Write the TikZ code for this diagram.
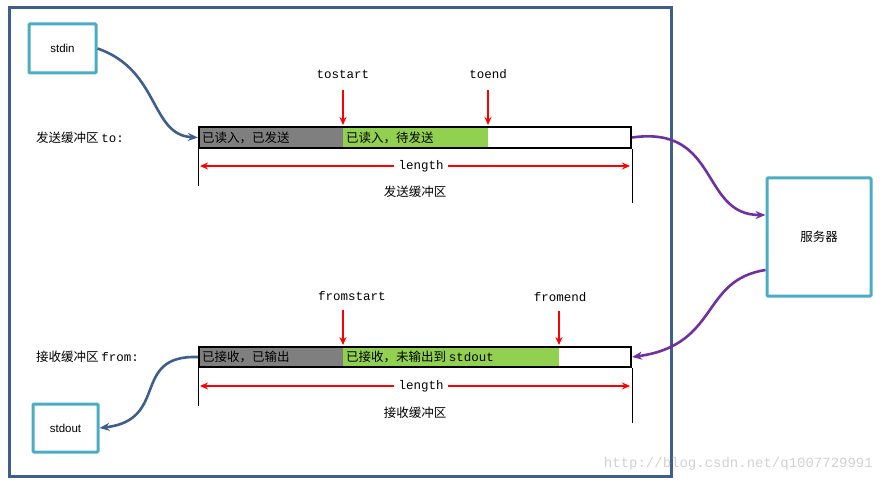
\documentclass[tikz,border=0pt]{standalone}
\usepackage{fontspec}
\setmainfont{Liberation Sans}
\setmonofont{Liberation Mono}
\newfontfamily\cjk{Noto Sans CJK SC}
\usetikzlibrary{arrows.meta}
\definecolor{frameblue}{HTML}{3E5F8A}
\definecolor{boxcyan}{HTML}{4BACC6}
\definecolor{bargray}{HTML}{7F7F7F}
\definecolor{bargreen}{HTML}{92D050}
\definecolor{flowpurple}{HTML}{7030A0}
\newcommand{\fs}{\fontsize{12.5}{14}\selectfont}
\tikzset{
  x=1pt,y=-1pt,
  ioBox/.style={draw=boxcyan,line width=3pt,rounded corners=1pt,font=\fontsize{11.5}{13}\selectfont},
  pointer/.style={draw=red,line width=1.6pt,-{Stealth[length=8pt,width=7pt]}},
  lenArrow/.style={draw=red,line width=1.6pt,-{Stealth[length=8pt,width=7pt]}},
  tick/.style={draw=black,line width=0.8pt},
  blueFlow/.style={draw=frameblue,line width=2.6pt,-{Stealth[length=10pt,width=8pt]}},
  purpleFlow/.style={draw=flowpurple,line width=2.6pt,-{Stealth[length=10pt,width=8pt]}},
  lbl/.style={font=\ttfamily\fs,inner sep=1pt},
  cn/.style={font=\cjk\fs,inner sep=1pt}
}
\begin{document}
\begin{tikzpicture}
\useasboundingbox (0,0) rectangle (884,484);
\draw[frameblue,line width=3pt] (9,8) rectangle (671,476);
% boxes
\node[ioBox,minimum width=67pt,minimum height=49pt] (stdin) at (62.5,48.5) {stdin};
\node[ioBox,minimum width=65pt,minimum height=48pt] (stdout) at (65.5,428) {stdout};
\node[ioBox,minimum width=104pt,minimum height=118pt,font=\cjk\fs] (srv) at (819,237) {服务器};
% send buffer
\fill[bargray] (199,127) rectangle (343,148);
\fill[bargreen] (343,127) rectangle (488,148);
\node[draw=black,line width=2.2pt,minimum width=432pt,minimum height=21pt,inner sep=0pt] (sbuf) at (415,137.5) {};
\node[cn,anchor=west] (s1) at (201,137.5) {已读入，已发送};
\node[cn,anchor=west] (s2) at (345,137.5) {已读入，待发送};
\node[anchor=west,inner sep=0pt] (slab) at (36,137.5) {{\cjk\fs 发送缓冲区} {\ttfamily\fs to:}};
\node[lbl] (tostart) at (343,74) {tostart};
\node[lbl] (toend) at (488,74) {toend};
\coordinate (tsA) at (343,125);
\coordinate (teA) at (488,125);
\draw[pointer] (343,90) -- (tsA);
\draw[pointer] (488,90) -- (teA);
\draw[tick] (sbuf.south west) -- ++(0,37);
\draw[tick] (sbuf.south east) -- ++(0,54);
\node[lbl,fill=white,inner sep=4pt] (slen) at (421,166) {length};
\coordinate (sl) at (200,166);
\coordinate (sr) at (630,166);
\draw[lenArrow] (slen) -- (sl);
\draw[lenArrow] (slen) -- (sr);
\node[cn] (sname) at (415,192) {发送缓冲区};
% receive buffer
\fill[bargray] (199,347) rectangle (343,367);
\fill[bargreen] (343,347) rectangle (559,367);
\node[draw=black,line width=2.2pt,minimum width=432pt,minimum height=20pt,inner sep=0pt] (rbuf) at (415,357) {};
\node[cn,anchor=west] (r1) at (201,357) {已接收，已输出};
\node[anchor=west,inner sep=1pt] (r2) at (345,357) {{\cjk\fs 已接收，未输出到} {\ttfamily\fs stdout}};
\node[anchor=west,inner sep=0pt] (rlab) at (36,357) {{\cjk\fs 接收缓冲区} {\ttfamily\fs from:}};
\node[lbl] (fromstart) at (352,296) {fromstart};
\node[lbl] (fromend) at (560,297) {fromend};
\coordinate (fsA) at (343,345);
\coordinate (feA) at (559,345);
\draw[pointer] (343,310) -- (fsA);
\draw[pointer] (559,311) -- (feA);
\draw[tick] (rbuf.south west) -- ++(0,38);
\draw[tick] (rbuf.south east) -- ++(0,55);
\node[lbl,fill=white,inner sep=4pt] (rlen) at (421,386) {length};
\coordinate (rl) at (200,386);
\coordinate (rr) at (630,386);
\draw[lenArrow] (rlen) -- (rl);
\draw[lenArrow] (rlen) -- (rr);
\node[cn] (rname) at (415,413) {接收缓冲区};
% flows
\draw[blueFlow] (stdin.east) .. controls (160,70) and (150,135) .. (sbuf.west);
\draw[purpleFlow] (sbuf.east) .. controls (720,125) and (700,215) .. (srv.west |- 0,215);
\draw[purpleFlow] (srv.west |- 0,270) .. controls (700,280) and (720,345) .. (rbuf.east);
\draw[blueFlow] (rbuf.west) .. controls (130,355) and (170,420) .. (stdout.east);
\node[font=\ttfamily\fontsize{14}{16}\selectfont,text=black!18,anchor=east,inner sep=0pt] (wm) at (873,464) {http://blog.csdn.net/q1007729991};
\end{tikzpicture}
\end{document}
